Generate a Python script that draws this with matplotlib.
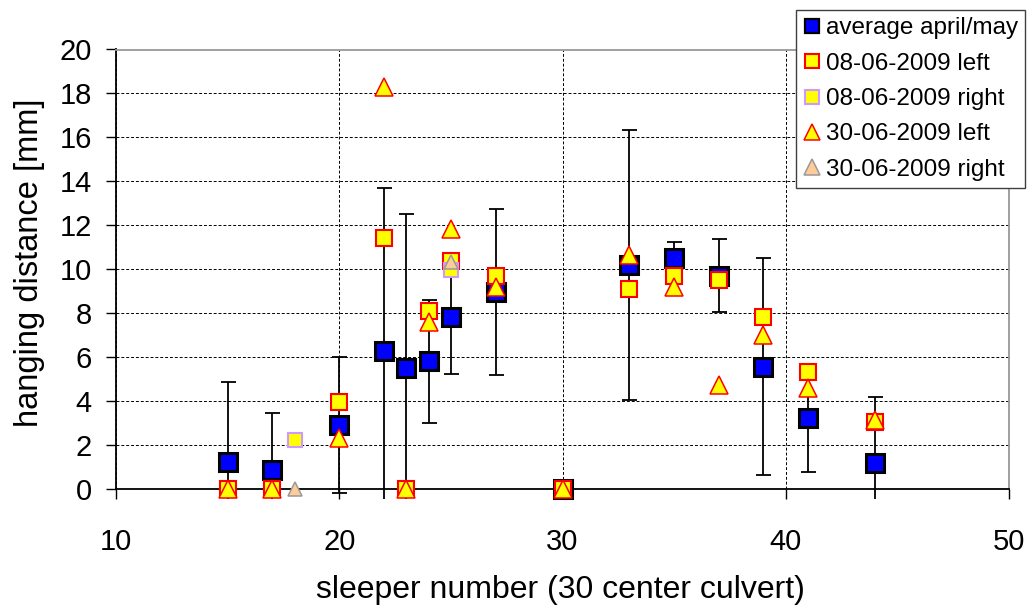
import matplotlib
matplotlib.use('Agg')
import matplotlib.pyplot as plt
from matplotlib.lines import Line2D
from matplotlib.patches import Rectangle

plt.rcParams['font.family'] = ['Liberation Sans', 'DejaVu Sans']

# average april/may with standard deviation
sleeper_avg = [15, 17, 20, 22, 23, 24, 25, 27, 30, 33, 35, 37, 39, 41, 44]
avg_aprmay = [1.2, 0.85, 2.9, 6.25, 5.5, 5.8, 7.8, 8.95, 0.0, 10.2, 10.5, 9.7, 5.55, 3.2, 1.15]
avg_sd = [3.65, 2.6, 3.1, 7.45, 7.0, 2.8, 2.6, 3.8, 0.0, 6.15, 0.75, 1.65, 4.95, 2.45, 3.0]

# 08-06-2009
sleeper_0806_left = [15, 17, 20, 22, 23, 24, 25, 27, 30, 33, 35, 37, 39, 41, 44]
val_0806_left = [0.0, 0.0, 3.95, 11.4, 0.0, 8.1, 10.35, 9.7, 0.0, 9.1, 9.7, 9.5, 7.8, 5.3, 3.05]
sleeper_0806_right = [18, 25]
val_0806_right = [2.2, 9.95]

# 30-06-2009
sleeper_3006_left = [15, 17, 20, 22, 23, 24, 25, 27, 30, 33, 35, 37, 39, 41, 44]
val_3006_left = [0.0, 0.0, 2.3, 18.3, 0.0, 7.6, 11.8, 9.2, 0.0, 10.65, 9.2, 4.7, 7.0, 4.6, 3.1]
sleeper_3006_right = [18, 25]
val_3006_right = [0.0, 10.3]

labels = ['average april/may', '08-06-2009 left', '08-06-2009 right',
          '30-06-2009 left', '30-06-2009 right']

fig = plt.figure(figsize=(10.35, 6.05), dpi=100)
ax = fig.add_axes([116 / 1035, 1 - 488.5 / 605, 893 / 1035, 439 / 605])

# error bars, clipped a little below the axis like the original
eb = ax.errorbar(sleeper_avg, avg_aprmay, yerr=avg_sd, fmt='none', ecolor='black',
                 elinewidth=1.3, capsize=5.4, capthick=1.3, zorder=3)
clip = Rectangle((0, -0.023), 1, 1.023, transform=ax.transAxes, visible=False)
ax.add_patch(clip)
for artist in eb.lines[1] + eb.lines[2]:
    artist.set_clip_path(clip)

ax.plot(sleeper_avg, avg_aprmay, 's', ms=13, mfc='#0000FF', mec='black', mew=2.2,
        clip_on=False, zorder=4)
ax.plot(sleeper_0806_left, val_0806_left, 's', ms=11, mfc='#FFFF00', mec='#FF0000',
        mew=1.5, clip_on=False, zorder=5)
ax.plot(sleeper_0806_right, val_0806_right, 's', ms=9.5, mfc='#FFFF00', mec='#CC99FF',
        mew=1.5, clip_on=False, zorder=6)
ax.plot(sleeper_3006_left, val_3006_left, '^', ms=12.5, mfc='#FFFF00', mec='#FF0000',
        mew=1.1, clip_on=False, zorder=7)
ax.plot(sleeper_3006_right, val_3006_right, '^', ms=10.5, mfc='#FFCC99', mec='#999999',
        mew=1.1, clip_on=False, zorder=8)

ax.set_xlim(10, 50)
ax.set_ylim(0, 20)
ax.set_xticks(range(10, 51, 10))
ax.set_yticks(range(0, 21, 2))
ax.grid(True, color='black', linestyle=(0, (3, 2)), linewidth=0.7)
ax.tick_params(direction='out', length=7.5, width=1, colors='black', labelsize=21)
ax.tick_params(axis='x', pad=21)
ax.tick_params(axis='y', pad=10)

ax.spines['left'].set_color('black')
ax.spines['bottom'].set_color('black')
ax.spines['top'].set_color('#999999')
ax.spines['right'].set_color('#999999')
for s in ax.spines.values():
    s.set_linewidth(1.3)

fig.text(30 / 1035, 1 - 263 / 605, 'hanging distance [mm]', rotation=90,
         ha='center', va='center', fontsize=23.5)
fig.text(560 / 1035, 1 - 590 / 605, 'sleeper number (30 center culvert)',
         ha='center', va='center', fontsize=23)

handles = [
    Line2D([], [], ls='none', marker='s', ms=10.5, mfc='#0000FF', mec='black', mew=1.6),
    Line2D([], [], ls='none', marker='s', ms=10.5, mfc='#FFFF00', mec='#FF0000', mew=1.5),
    Line2D([], [], ls='none', marker='s', ms=10.5, mfc='#FFFF00', mec='#CC99FF', mew=1.5),
    Line2D([], [], ls='none', marker='^', ms=11.5, mfc='#FFFF00', mec='#FF0000', mew=1.1),
    Line2D([], [], ls='none', marker='^', ms=11.5, mfc='#FFCC99', mec='#999999', mew=1.1),
]
leg = fig.legend(handles, labels, loc='upper right',
                 bbox_to_anchor=(1025 / 1035, 1 - 10 / 605), fontsize=17.5,
                 frameon=True, fancybox=False, framealpha=1, edgecolor='#404040',
                 borderpad=0.3, labelspacing=0.55, handlelength=0.65,
                 handletextpad=0.25, borderaxespad=0)
leg.get_frame().set_linewidth(1.0)

fig.savefig('out.png', dpi=100)
